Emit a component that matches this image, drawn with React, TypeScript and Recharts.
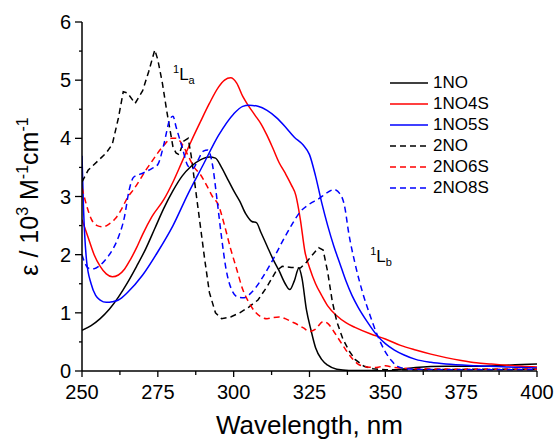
import { LineChart, Line, XAxis, YAxis, ReferenceDot } from 'recharts'

// wavelength (nm) / epsilon (10^3 M^-1 cm^-1) pairs
const wl1NO = [250, 253, 256, 259, 262, 265, 268, 271, 274, 277, 280, 283, 286, 289, 292, 294, 296, 298, 300, 302, 304, 306, 307.5, 309, 311, 313, 315, 317, 318.5, 320, 321.5, 322.5, 324, 325.5, 327, 329, 331, 334, 338, 345, 350, 355, 360, 370, 380, 390, 400]
const eps1NO = [0.7, 0.78, 0.9, 1.06, 1.27, 1.52, 1.8, 2.1, 2.45, 2.8, 3.1, 3.35, 3.52, 3.63, 3.68, 3.66, 3.5, 3.3, 3.1, 2.92, 2.7, 2.57, 2.55, 2.38, 2.15, 1.92, 1.72, 1.5, 1.4, 1.55, 1.77, 1.6, 1.05, 0.7, 0.4, 0.2, 0.1, 0.03, 0.01, 0.01, 0.0, 0.03, 0.06, 0.08, 0.08, 0.1, 0.12]

const wl1NO4S = [250, 252, 254, 256, 258, 260, 262, 264, 266, 268, 270, 273, 277, 280, 283, 286, 289, 292, 295, 297, 299, 301, 303, 305, 307, 309, 311, 313, 315, 317, 319, 320.5, 322, 323.5, 325, 327, 329, 331, 334, 337, 340, 345, 350, 355, 360, 365, 370, 375, 380, 385, 390, 395, 400]
const eps1NO4S = [2.6, 2.3, 2.0, 1.8, 1.67, 1.62, 1.65, 1.75, 1.92, 2.12, 2.35, 2.65, 2.95, 3.25, 3.6, 3.95, 4.28, 4.6, 4.88, 5.0, 5.04, 4.95, 4.72, 4.55, 4.4, 4.25, 4.05, 3.82, 3.58, 3.4, 3.2, 3.02, 2.6, 2.05, 1.78, 1.5, 1.3, 1.12, 0.95, 0.83, 0.75, 0.64, 0.55, 0.44, 0.36, 0.29, 0.23, 0.18, 0.14, 0.12, 0.1, 0.08, 0.07]

const wl1NO5S = [250, 250.5, 251.5, 253, 254.5, 256, 258, 260, 262, 265, 270, 275, 280, 285, 290, 295, 300, 303, 305, 308, 311, 314, 317, 320, 323, 325, 327, 329, 331, 333, 335, 337, 339, 341, 344, 347, 350, 353, 356, 360, 365, 370, 380, 390, 400]
const eps1NO5S = [3.7, 2.8, 1.9, 1.5, 1.3, 1.22, 1.18, 1.19, 1.22, 1.35, 1.65, 2.05, 2.5, 3.05, 3.55, 4.05, 4.42, 4.55, 4.57, 4.55, 4.48, 4.36, 4.2, 4.02, 3.88, 3.72, 3.35, 2.9, 2.5, 2.15, 1.85, 1.55, 1.3, 1.1, 0.85, 0.63, 0.47, 0.36, 0.28, 0.2, 0.15, 0.12, 0.09, 0.07, 0.05]

const wl2NO = [250, 252, 255, 258, 260, 262, 263.6, 265, 267.5, 270, 272, 274, 275, 276.5, 278, 280, 281, 282, 283.5, 285, 286, 287.5, 289, 290.5, 292, 294, 296, 299, 302, 305, 308, 311, 314, 316, 319, 322, 324, 326, 328, 329.5, 331, 332.5, 334, 336, 338, 340, 343, 346, 350, 360, 380, 400]
const eps2NO = [3.25, 3.45, 3.6, 3.75, 3.9, 4.35, 4.8, 4.78, 4.6, 4.82, 5.15, 5.52, 5.35, 4.95, 4.45, 3.85, 3.75, 3.72, 3.95, 4.0, 3.7, 3.1, 2.5, 1.9, 1.35, 1.0, 0.9, 0.93, 1.0, 1.1, 1.22, 1.45, 1.72, 1.8, 1.78, 1.77, 1.87, 2.0, 2.12, 2.08, 1.7, 1.2, 0.85, 0.55, 0.35, 0.2, 0.08, 0.04, 0.02, 0.02, 0.03, 0.03]

const wl2NO6S = [250, 251.5, 253, 255, 257, 259, 261, 263, 265, 267, 269, 271, 273, 275, 277, 279.5, 281, 283, 285, 287, 289, 291, 293, 295, 297, 299, 301, 303, 305, 307, 309, 311, 313, 315, 317, 319, 321, 323, 325, 327, 329.5, 331, 333, 335, 337, 339, 341, 344, 347, 350, 353, 360, 380, 400]
const eps2NO6S = [3.15, 2.85, 2.62, 2.5, 2.48, 2.53, 2.62, 2.78, 2.98, 3.12, 3.28, 3.45, 3.6, 3.75, 3.88, 4.0, 4.0, 3.9, 3.7, 3.5, 3.38, 3.2, 3.0, 2.85, 2.5, 2.1, 1.75, 1.4, 1.18, 1.02, 0.93, 0.9, 0.92, 0.93, 0.9, 0.85, 0.8, 0.74, 0.68, 0.72, 0.85, 0.82, 0.68, 0.52, 0.36, 0.22, 0.12, 0.07, 0.06, 0.09, 0.06, 0.04, 0.03, 0.03]

const wl2NO8S = [250, 251, 252.5, 254, 256, 258, 260, 262, 264, 265.5, 267, 270, 273, 275, 277, 279, 280, 281, 283, 285, 286.5, 288, 290, 291.5, 293, 294.5, 296, 297.5, 299.5, 301.5, 303.5, 305.5, 307.5, 310, 313, 316, 319, 322, 325, 328, 331, 333, 335, 336.5, 338, 340, 342.5, 345, 347.5, 350, 352, 354, 357, 360, 380, 400]
const eps2NO8S = [2.0, 1.85, 1.76, 1.76, 1.82, 1.93, 2.08, 2.3, 2.65, 3.1, 3.33, 3.4, 3.48, 3.55, 3.9, 4.33, 4.38, 4.2, 3.85, 3.52, 3.48, 3.6, 3.78, 3.8, 3.55, 2.95, 2.3, 1.75, 1.38, 1.27, 1.26, 1.33, 1.45, 1.65, 1.92, 2.22, 2.5, 2.74, 2.87, 2.96, 3.07, 3.12, 3.05, 2.85, 2.35, 1.85, 1.35, 0.95, 0.6, 0.33, 0.18, 0.08, 0.04, 0.03, 0.02, 0.02]

const xTicks = [250, 262.5, 275, 287.5, 300, 312.5, 325, 337.5, 350, 362.5, 375, 387.5, 400]
const yTicks = [0, 0.5, 1, 1.5, 2, 2.5, 3, 3.5, 4, 4.5, 5, 5.5, 6]

// band labels (nm, epsilon)
const bandLa = { x: 280, y: 5.0 }
const bandLb = { x: 345, y: 1.87 }

const FONT = '"Liberation Sans", Arial, sans-serif'

const toPoints = (wl: number[], eps: number[]) => wl.map((x, i) => ({ x, y: eps[i] }))

const series = [
  { name: '1NO', data: toPoints(wl1NO, eps1NO), color: '#000000', dash: undefined, type: 'monotone' },
  { name: '1NO4S', data: toPoints(wl1NO4S, eps1NO4S), color: '#ff0000', dash: undefined, type: 'monotone' },
  { name: '1NO5S', data: toPoints(wl1NO5S, eps1NO5S), color: '#0000ff', dash: undefined, type: 'monotone' },
  { name: '2NO', data: toPoints(wl2NO, eps2NO), color: '#000000', dash: '6 4', type: 'linear' },
  { name: '2NO6S', data: toPoints(wl2NO6S, eps2NO6S), color: '#ff0000', dash: '6 4', type: 'monotone' },
  { name: '2NO8S', data: toPoints(wl2NO8S, eps2NO8S), color: '#0000ff', dash: '6 4', type: 'monotone' },
]

function XTick(props: any) {
  const { x, y, payload } = props
  const major = payload.value % 25 === 0
  return (
    <g>
      <line x1={x} x2={x} y1={y} y2={y + (major ? 6 : 4)} stroke="#000" strokeWidth={1.3} />
      {major && (
        <text x={x} y={y + 28} textAnchor="middle" fontSize={20} fill="#000" fontFamily={FONT}>
          {payload.value}
        </text>
      )}
    </g>
  )
}

function YTick(props: any) {
  const { x, y, payload } = props
  const major = Number.isInteger(payload.value)
  return (
    <g>
      <line x1={x} x2={x - (major ? 7 : 3)} y1={y} y2={y} stroke="#000" strokeWidth={1.3} />
      {major && (
        <text x={x - 11} y={y + 7} textAnchor="end" fontSize={20} fill="#000" fontFamily={FONT}>
          {payload.value}
        </text>
      )}
    </g>
  )
}

function YTitle(props: any) {
  const { viewBox } = props
  const cx = 38
  const cy = viewBox.y + viewBox.height / 2
  return (
    <text
      x={cx}
      y={cy}
      transform={`rotate(-90 ${cx} ${cy})`}
      textAnchor="middle"
      fontSize={25}
      fill="#000"
      fontFamily={FONT}
    >
      ε / 10
      <tspan fontSize={16} dy={-10}>3</tspan>
      <tspan dy={10}> M</tspan>
      <tspan fontSize={16} dy={-10}>-1</tspan>
      <tspan dy={10}>cm</tspan>
      <tspan fontSize={16} dy={-10}>-1</tspan>
    </text>
  )
}

function XTitle(props: any) {
  const { viewBox } = props
  return (
    <text
      x={viewBox.x + viewBox.width / 2}
      y={viewBox.y + 63}
      textAnchor="middle"
      fontSize={26}
      fill="#000"
      fontFamily={FONT}
    >
      Wavelength, nm
    </text>
  )
}

function bandLabel(sub: string) {
  return (props: any) => {
    const { viewBox } = props
    return (
      <text x={viewBox.x} y={viewBox.y} fontSize={17} fill="#000" fontFamily={FONT}>
        <tspan fontSize={11} dy={-7}>1</tspan>
        <tspan dy={7}>L</tspan>
        <tspan fontSize={11} dy={4}>{sub}</tspan>
      </text>
    )
  }
}

export default function App() {
  return (
    <div style={{ position: 'absolute', left: 0, top: 0, width: 555, height: 441, background: '#fff' }}>
      <LineChart width={555} height={441} margin={{ top: 22, right: 18, left: 0, bottom: 0 }}>
        <XAxis
          dataKey="x"
          type="number"
          domain={[250, 400]}
          ticks={xTicks}
          interval={0}
          tickSize={0}
          tickMargin={0}
          tick={<XTick />}
          height={70}
          allowDataOverflow
          axisLine={{ stroke: '#000', strokeWidth: 1.5 }}
          label={{ content: XTitle }}
        />
        <YAxis
          type="number"
          domain={[0, 6]}
          ticks={yTicks}
          interval={0}
          tickSize={0}
          tickMargin={0}
          tick={<YTick />}
          width={82}
          allowDataOverflow
          axisLine={{ stroke: '#000', strokeWidth: 1.5 }}
          label={{ content: YTitle }}
        />
        {series.map(s => (
          <Line
            key={s.name}
            data={s.data}
            dataKey="y"
            name={s.name}
            type={s.type as any}
            stroke={s.color}
            strokeWidth={1.5}
            strokeDasharray={s.dash}
            dot={false}
            activeDot={false}
            isAnimationActive={false}
          />
        ))}
        <ReferenceDot x={bandLa.x} y={bandLa.y} r={0} fill="none" stroke="none" label={{ content: bandLabel('a') }} />
        <ReferenceDot x={bandLb.x} y={bandLb.y} r={0} fill="none" stroke="none" label={{ content: bandLabel('b') }} />
      </LineChart>

      {/* legend, top right */}
      <div style={{ position: 'absolute', left: 390, top: 72, fontFamily: FONT, fontSize: 17, color: '#000' }}>
        {series.map(s => (
          <div key={s.name} style={{ display: 'flex', alignItems: 'center', height: 21 }}>
            <svg width={38} height={4} style={{ marginRight: 5 }}>
              <line x1={0} x2={38} y1={2} y2={2} stroke={s.color} strokeWidth={1.5} strokeDasharray={s.dash} />
            </svg>
            <span>{s.name}</span>
          </div>
        ))}
      </div>
    </div>
  )
}
